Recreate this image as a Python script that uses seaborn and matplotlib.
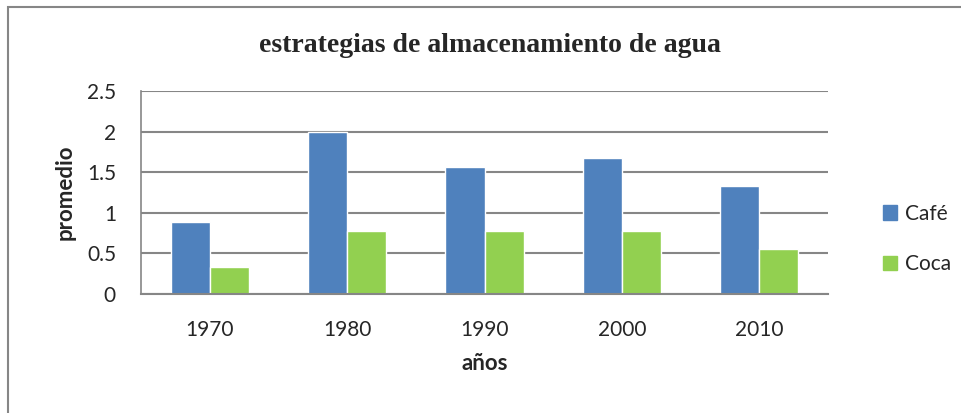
import pandas as pd
import seaborn as sns
import matplotlib.pyplot as plt
from matplotlib.patches import Rectangle

# === Data ===
years = ["1970", "1980", "1990", "2000", "2010"]
cafe = [0.89, 2.0, 1.56, 1.67, 1.33]
coca = [0.33, 0.78, 0.78, 0.78, 0.56]
series = ["Café", "Coca"]
colors = ["#4F81BD", "#92D050"]

df = pd.DataFrame({
    "año": years * 2,
    "promedio": cafe + coca,
    "serie": [series[0]] * len(years) + [series[1]] * len(years),
})

# === Style ===
sns.set_style("white")
plt.rcParams["font.family"] = ["Lato", "DejaVu Sans"]

fig = plt.figure(figsize=(9.61, 4.13), dpi=100)
ax = fig.add_axes([141 / 961, 1 - 294 / 413, 687 / 961, 203 / 413])

sns.barplot(data=df, x="año", y="promedio", hue="serie", palette=colors,
            width=0.57, saturation=1, ax=ax, legend=False)

ax.set_ylim(0, 2.5)
ax.set_yticks([0, 0.5, 1, 1.5, 2, 2.5])
ax.set_yticklabels(["0", "0.5", "1", "1.5", "2", "2.5"])
ax.yaxis.grid(True, color="#868686", linewidth=1.5)
ax.set_axisbelow(True)
for s in ["top", "right"]:
    ax.spines[s].set_visible(False)
ax.spines["left"].set_color("#868686")
ax.spines["bottom"].set_color("#868686")
ax.spines["left"].set_linewidth(1.2)
ax.spines["bottom"].set_linewidth(1.5)
ax.tick_params(axis="y", length=6, width=1.2, color="#868686", pad=12, labelsize=15)
ax.tick_params(axis="x", length=0, pad=19, labelsize=15)

ax.set_xlabel("años", fontsize=16, fontweight="bold", labelpad=9)
ax.set_ylabel("promedio", fontsize=16, fontweight="bold", labelpad=8)

# === Title ===
fig.text(490 / 961, 1 - 45 / 413, "estrategias de almacenamiento de agua",
         family="Liberation Serif", fontweight="bold", fontsize=20,
         ha="center", va="center")

# === Legend ===
handles = [Rectangle((0, 0), 1, 1, color=c) for c in colors]
fig.legend(handles, series, loc="center left", bbox_to_anchor=(864 / 961, 1 - 239 / 413),
           frameon=False, fontsize=15, labelspacing=1.45, handlelength=0.7,
           handleheight=0.7, handletextpad=0.35)

# === Outer frame ===
fig.patches.append(Rectangle((8 / 961, -0.1), 1.0, 1 - 7 / 413 + 0.1,
                             transform=fig.transFigure, fill=False,
                             edgecolor="#868686", linewidth=1.5))

plt.savefig("out.png", dpi=100)
